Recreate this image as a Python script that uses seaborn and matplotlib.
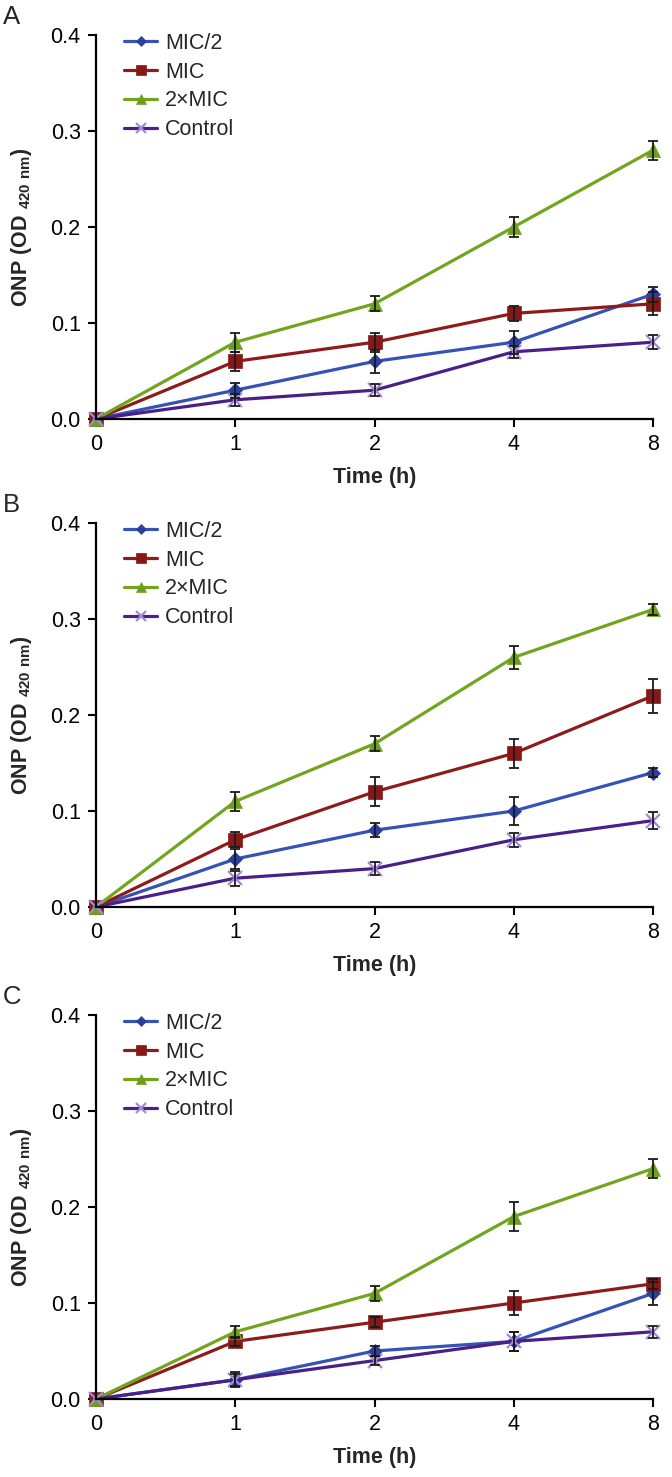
import matplotlib
matplotlib.use('Agg')
import matplotlib.pyplot as plt
import seaborn as sns
import numpy as np
import pandas as pd

# time points (h), plotted equally spaced
times = ['0', '1', '2', '4', '8']
groups = ['MIC/2', 'MIC', '2×MIC', 'Control']
panels = ['A', 'B', 'C']

# mean ONP values per panel and group
mean_a = {'MIC/2': [0, 0.03, 0.06, 0.08, 0.13],
          'MIC': [0, 0.06, 0.08, 0.11, 0.12],
          '2×MIC': [0, 0.08, 0.12, 0.20, 0.28],
          'Control': [0, 0.02, 0.03, 0.07, 0.08]}
err_a = {'MIC/2': [0, 0.008, 0.012, 0.012, 0.008],
         'MIC': [0, 0.010, 0.010, 0.008, 0.012],
         '2×MIC': [0, 0.010, 0.008, 0.010, 0.010],
         'Control': [0, 0.006, 0.006, 0.006, 0.007]}

mean_b = {'MIC/2': [0, 0.05, 0.08, 0.10, 0.14],
          'MIC': [0, 0.07, 0.12, 0.16, 0.22],
          '2×MIC': [0, 0.11, 0.17, 0.26, 0.31],
          'Control': [0, 0.03, 0.04, 0.07, 0.09]}
err_b = {'MIC/2': [0, 0.010, 0.007, 0.015, 0.005],
         'MIC': [0, 0.008, 0.015, 0.015, 0.018],
         '2×MIC': [0, 0.010, 0.008, 0.012, 0.006],
         'Control': [0, 0.008, 0.007, 0.007, 0.009]}

mean_c = {'MIC/2': [0, 0.02, 0.05, 0.06, 0.11],
          'MIC': [0, 0.06, 0.08, 0.10, 0.12],
          '2×MIC': [0, 0.07, 0.11, 0.19, 0.24],
          'Control': [0, 0.02, 0.04, 0.06, 0.07]}
err_c = {'MIC/2': [0, 0.008, 0.005, 0.010, 0.012],
         'MIC': [0, 0.005, 0.005, 0.012, 0.005],
         '2×MIC': [0, 0.006, 0.008, 0.015, 0.010],
         'Control': [0, 0.006, 0.005, 0.010, 0.006]}

yticks = [0.0, 0.1, 0.2, 0.3, 0.4]

line_colors = {'MIC/2': '#3552b5', 'MIC': '#8e1b1b', '2×MIC': '#72a51e', 'Control': '#4a1f88'}
marker_colors = {'MIC/2': '#2b3f9e', 'MIC': '#861818', '2×MIC': '#6e9f1c', 'Control': '#9f8ad8'}
markers = {'MIC/2': 'D', 'MIC': 's', '2×MIC': '^', 'Control': 'x'}
msizes = {'MIC/2': 7, 'MIC': 10.5, '2×MIC': 10.5, 'Control': 9.5}


def draw_panel(ax, letter, means, errs):
    pos = np.arange(len(times))
    for g in groups:
        df = pd.DataFrame({'pos': pos, 'value': means[g]})
        sns.lineplot(data=df, x='pos', y='value', ax=ax, color=line_colors[g],
                     marker=markers[g], markersize=msizes[g], linewidth=2.3,
                     markerfacecolor=marker_colors[g], markeredgecolor=marker_colors[g],
                     markeredgewidth=1.6 if g == 'Control' else 0.5,
                     label=g, clip_on=False, errorbar=None)
    for g in groups:
        ax.errorbar(pos[1:], means[g][1:], yerr=errs[g][1:], fmt='none', ecolor='#1a1a1a',
                    elinewidth=1.3, capsize=3.5, capthick=1.3, zorder=3, clip_on=False)

    ax.set_xlim(0, len(times) - 1)
    ax.set_ylim(0, 0.4)
    ax.set_xticks(pos)
    ax.set_xticklabels(times)
    ax.set_yticks(yticks)
    ax.set_yticklabels(['%.1f' % v for v in yticks])
    sns.despine(ax=ax)
    for s in ['left', 'bottom']:
        ax.spines[s].set_linewidth(1.6)
        ax.spines[s].set_color('black')
    ax.tick_params(direction='out', length=6, width=1.5, labelsize=15.5, colors='black', pad=5)

    ax.set_xlabel('Time (h)', fontsize=15.5, fontweight='bold')
    ax.xaxis.set_label_coords(0.5, -0.125)
    ax.set_ylabel('ONP (OD $_{\\mathbf{420\\ nm}}$)', fontsize=15.5, fontweight='bold')
    ax.yaxis.set_label_coords(-0.112, 0.5)

    ax.legend(loc='upper left', bbox_to_anchor=(0.035, 1.028), frameon=False, fontsize=15.5,
              handlelength=1.55, handletextpad=0.35, labelspacing=0.36, markerscale=0.72,
              borderaxespad=0)
    ax.text(-0.167, 1.047, letter, transform=ax.transAxes, fontsize=18.5, ha='left', va='center')


def main():
    sns.set_style('ticks')
    plt.rcParams['font.family'] = ['Liberation Sans', 'DejaVu Sans']
    plt.rcParams['mathtext.fontset'] = 'custom'
    plt.rcParams['mathtext.rm'] = 'Liberation Sans'
    plt.rcParams['mathtext.bf'] = 'Liberation Sans:bold'

    fig = plt.figure(figsize=(6.72, 14.77), dpi=100)
    W, H = 672, 1477
    left, right = 96, 653
    tops = [35, 523, 1015]
    height = 384
    data = [(mean_a, err_a), (mean_b, err_b), (mean_c, err_c)]
    for letter, top, (m, e) in zip(panels, tops, data):
        ax = fig.add_axes([left / W, 1 - (top + height) / H, (right - left) / W, height / H])
        draw_panel(ax, letter, m, e)

    fig.savefig('out.png', dpi=100, facecolor='white')


if __name__ == "__main__":
    main()
